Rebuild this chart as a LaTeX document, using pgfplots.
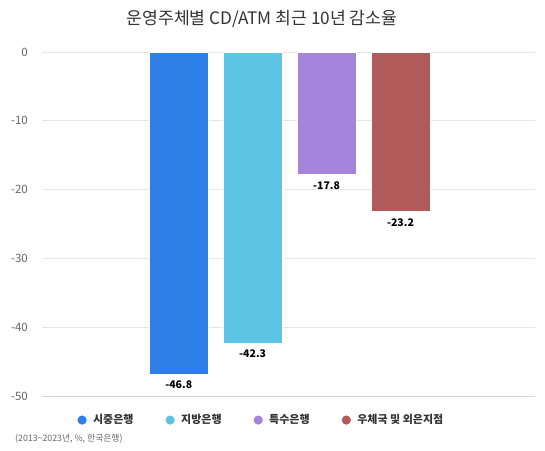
\documentclass[border=0pt]{standalone}
\usepackage{fontspec}
\setmainfont{Noto Sans CJK KR}
\usepackage{pgfplots}
\pgfplotsset{compat=1.18}
\definecolor{c1}{HTML}{2E80E6}
\definecolor{c2}{HTML}{5CC5E5}
\definecolor{c3}{HTML}{A585DC}
\definecolor{c4}{HTML}{B05A5A}
\definecolor{gridc}{HTML}{E6E6E6}
\definecolor{basec}{HTML}{CCD6EB}
\definecolor{tickc}{HTML}{666666}
\definecolor{titlec}{HTML}{333333}
\pgfplotsset{dotlegend/.style={legend image code/.code={%
    \fill[##1, draw=none] (0pt,0pt) circle (4.6pt);
    \path[draw=none] (-4.6pt,0pt) -- (9pt,0pt);}}}

\begin{document}
\begin{tikzpicture}[x=1pt,y=1pt]
\path[use as bounding box] (0,0) rectangle (545,450);
\begin{axis}[
    at={(42pt,54pt)}, anchor=south west,
    scale only axis, width=493pt, height=344pt,
    ybar, bar width=59pt, bar shift=0pt,
    xmin=-1.85, xmax=4.82, ymin=-50, ymax=0,
    axis x line*=bottom, axis y line*=left,
    x axis line style={draw=basec, -},
    y axis line style={draw=none},
    xtick=\empty,
    ytick={-50,-40,-30,-20,-10,0},
    yticklabels={-50,-40,-30,-20,-10,0},
    major tick length=0pt,
    ymajorgrids, grid style={draw=gridc, line width=0.8pt},
    yticklabel style={font=\fontsize{11.5}{13}\selectfont, text=tickc, anchor=east, inner sep=0pt, xshift=-14pt},
    point meta=explicit symbolic,
    nodes near coords,
    every node near coord/.append style={font=\bfseries\fontsize{10.5}{12}\selectfont, text=black, anchor=north, inner sep=0pt, yshift=-7pt},
    legend style={at={(0.445,-0.07)}, anchor=center, draw=none, fill=none,
        font=\bfseries\fontsize{11}{13}\selectfont, text=titlec,
        /tikz/every even column/.append style={column sep=30pt}},
    legend columns=4,
]
\addplot[fill=c1, draw=white, dotlegend] coordinates {(0,-46.8) [-46.8]};
\addplot[fill=c2, draw=white, dotlegend] coordinates {(1,-42.3) [-42.3]};
\addplot[fill=c3, draw=white, dotlegend] coordinates {(2,-17.8) [-17.8]};
\addplot[fill=c4, draw=white, dotlegend] coordinates {(3,-23.2) [-23.2]};
\legend{시중은행, 지방은행, 특수은행, 우체국 및 외은지점}
\end{axis}
\node[text=titlec, font=\fontsize{17.2}{20}\selectfont] at (262,431) {운영주체별 CD/ATM 최근 10년 감소율};
\node[text=tickc, font=\fontsize{8.8}{10}\selectfont, anchor=west, inner sep=0pt] at (15,11) {(2013\textasciitilde 2023년, \%, 한국은행)};
\end{tikzpicture}
\end{document}
